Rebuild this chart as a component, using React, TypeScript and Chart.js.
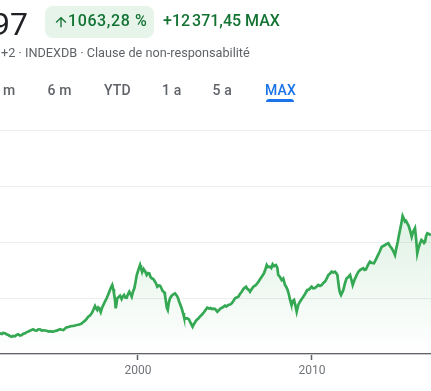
import React, { useEffect, useRef } from "react";
import { Chart, registerables } from "chart.js";

Chart.register(...registerables);

// Decimal years (x) and index values (y)
const years = [
  1991.96, 1992.07, 1992.18, 1992.24, 1992.36, 1992.47, 1992.55, 1992.64, 1992.74, 1992.82,
  1992.93, 1993.02, 1993.12, 1993.22, 1993.32, 1993.39, 1993.51, 1993.62, 1993.71, 1993.79,
  1993.88, 1993.98, 1994.08, 1994.18, 1994.25, 1994.37, 1994.46, 1994.56, 1994.66, 1994.75,
  1994.86, 1994.94, 1995.03, 1995.13, 1995.23, 1995.33, 1995.42, 1995.52, 1995.62, 1995.71,
  1995.81, 1995.90, 1996.00, 1996.09, 1996.19, 1996.28, 1996.38, 1996.48, 1996.57, 1996.67,
  1996.77, 1996.86, 1996.96, 1997.05, 1997.14, 1997.24, 1997.34, 1997.43, 1997.53, 1997.60,
  1997.66, 1997.72, 1997.78, 1997.86, 1997.93, 1998.01, 1998.10, 1998.20, 1998.29, 1998.39,
  1998.46, 1998.52, 1998.58, 1998.62, 1998.68, 1998.72, 1998.77, 1998.81, 1998.89, 1998.97,
  1999.06, 1999.11, 1999.20, 1999.27, 1999.35, 1999.43, 1999.50, 1999.57, 1999.64, 1999.71,
  1999.79, 1999.86, 1999.93, 2000.02, 2000.12, 2000.17, 2000.25, 2000.32, 2000.36, 2000.43,
  2000.50, 2000.58, 2000.65, 2000.72, 2000.79, 2000.88, 2000.98, 2001.05, 2001.11, 2001.19,
  2001.27, 2001.34, 2001.42, 2001.50, 2001.55, 2001.61, 2001.66, 2001.71, 2001.77, 2001.84,
  2001.93, 2002.03, 2002.13, 2002.23, 2002.30, 2002.37, 2002.44, 2002.51, 2002.59, 2002.64,
  2002.74, 2002.83, 2002.93, 2002.99, 2003.06, 2003.14, 2003.22, 2003.29, 2003.37, 2003.47,
  2003.56, 2003.68, 2003.79, 2003.88, 2003.98, 2004.08, 2004.17, 2004.24, 2004.33, 2004.43,
  2004.56, 2004.66, 2004.75, 2004.86, 2005.00, 2005.09, 2005.19, 2005.29, 2005.39, 2005.48,
  2005.58, 2005.67, 2005.77, 2005.86, 2005.96, 2006.06, 2006.15, 2006.21, 2006.29, 2006.38,
  2006.44, 2006.52, 2006.63, 2006.75, 2006.86, 2006.95, 2007.05, 2007.14, 2007.24, 2007.33,
  2007.40, 2007.47, 2007.59, 2007.66, 2007.74, 2007.82, 2007.93, 2008.01, 2008.06, 2008.16,
  2008.26, 2008.35, 2008.45, 2008.52, 2008.60, 2008.68, 2008.74, 2008.79, 2008.83, 2008.90,
  2008.97, 2009.04, 2009.12, 2009.21, 2009.31, 2009.41, 2009.50, 2009.60, 2009.73, 2009.83,
  2009.91, 2009.98, 2010.07, 2010.17, 2010.27, 2010.36, 2010.46, 2010.56, 2010.65, 2010.75,
  2010.85, 2010.94, 2011.04, 2011.13, 2011.23, 2011.32, 2011.39, 2011.46, 2011.51, 2011.57,
  2011.62, 2011.67, 2011.74, 2011.80, 2011.90, 2011.99, 2012.09, 2012.19, 2012.27, 2012.34,
  2012.44, 2012.57, 2012.66, 2012.76, 2012.86, 2012.95, 2013.02, 2013.10, 2013.22, 2013.33,
  2013.45, 2013.56, 2013.66, 2013.75, 2013.88, 2014.01, 2014.10, 2014.20, 2014.29, 2014.39,
  2014.48, 2014.58, 2014.67, 2014.77, 2014.85, 2014.93, 2015.00, 2015.06, 2015.15, 2015.21,
  2015.29, 2015.35, 2015.41, 2015.48, 2015.56, 2015.63, 2015.69, 2015.73, 2015.79, 2015.82,
  2015.92, 2015.99, 2016.05, 2016.12, 2016.21, 2016.29, 2016.36, 2016.44, 2016.50, 2016.56,
  2016.63, 2016.72, 2016.84, 2016.95,
];

const values = [
  1875, 1849, 1786, 1875, 1849, 1741, 1697, 1607, 1545, 1607,
  1581, 1697, 1759, 1652, 1697, 1786, 1849, 1965, 2009, 2081,
  2143, 2206, 2099, 2081, 2188, 2206, 2099, 2116, 2099, 2081,
  2009, 2036, 2000, 1991, 2054, 2081, 2143, 2206, 2161, 2143,
  2277, 2384, 2411, 2456, 2500, 2518, 2545, 2590, 2608, 2652,
  2741, 2858, 2974, 3126, 3331, 3438, 3634, 3929, 4286, 4063,
  3929, 4152, 4081, 3751, 4108, 4376, 4688, 4974, 5313, 5715,
  5983, 6162, 5805, 5420, 4822, 4081, 4554, 4974, 5090, 5206,
  4912, 5090, 5269, 5045, 5019, 5358, 5563, 5358, 5117, 5537,
  5867, 6430, 7055, 7501, 7948, 7680, 7349, 7591, 7501, 7323,
  7055, 7233, 7206, 6876, 6760, 6698, 6456, 6251, 6010, 6117,
  6099, 5894, 5626, 5537, 5269, 4644, 4108, 3929, 4554, 4974,
  5179, 5331, 5403, 5206, 5001, 4670, 4376, 4081, 3661, 3331,
  3143, 3188, 3081, 2884, 2679, 2438, 2679, 2858, 3036, 3170,
  3331, 3527, 3724, 3929, 4134, 4063, 4108, 4018, 4045, 4018,
  3777, 3929, 4081, 4152, 4313, 4242, 4376, 4420, 4527, 4733,
  4974, 5045, 5117, 5358, 5563, 5805, 5938, 6010, 5805, 5715,
  5563, 5760, 6010, 6117, 6313, 6519, 6760, 6965, 7206, 7591,
  7948, 7769, 7796, 7680, 8010, 7858, 7948, 7680, 7055, 6876,
  6608, 6742, 6162, 5983, 5715, 5269, 4822, 4554, 4376, 4733,
  4822, 4376, 3777, 4376, 4670, 4912, 5117, 5358, 5715, 5760,
  5894, 6010, 5867, 5894, 6028, 6162, 6072, 6162, 6340, 6456,
  6742, 7055, 7189, 7349, 7278, 7349, 7233, 7055, 6430, 5715,
  5447, 5269, 5492, 5715, 6340, 6760, 6876, 7055, 6608, 6162,
  6608, 7055, 7323, 7501, 7591, 7653, 7501, 7546, 7948, 8242,
  8126, 8099, 8394, 8689, 9108, 9581, 9644, 9733, 9823, 9885,
  9644, 9439, 9197, 8840, 9465, 10028, 10626, 11073, 11787, 12323,
  12055, 11814, 11876, 11671, 11430, 11073, 10716, 10474, 10805, 10921,
  11225, 10180, 8992, 9465, 9885, 10180, 10090, 9912, 10028, 10537,
  10778, 10716, 10626, 10716,
];

const xTickValues = [2000, 2010];
const yTickValues = [0, 5000, 10000, 15000, 20000];

const FONT = "Roboto, 'Noto Sans', Arial, sans-serif";

function ChartCanvas() {
  const ref = useRef<HTMLCanvasElement | null>(null);
  useEffect(() => {
    if (!ref.current) return;
    const points = years.map((x, i) => ({ x, y: values[i] }));
    const chart = new Chart(ref.current, {
      type: "line",
      data: {
        datasets: [
          {
            data: points,
            borderColor: "#34a853",
            borderWidth: 2.7,
            borderJoinStyle: "miter",
            pointRadius: 0,
            tension: 0,
            fill: "start",
            backgroundColor: (ctx: any) => {
              const c = ctx.chart;
              const area = c.chartArea;
              if (!area) return "rgba(52,168,83,0.1)";
              const g = c.ctx.createLinearGradient(0, area.top + 80, 0, area.bottom);
              g.addColorStop(0, "rgba(52,168,83,0.16)");
              g.addColorStop(1, "rgba(52,168,83,0)");
              return g;
            },
          },
        ],
      },
      options: {
        animation: false,
        responsive: false,
        maintainAspectRatio: false,
        layout: { padding: { top: 130, bottom: 8.6, left: 0, right: 0 } },
        plugins: { legend: { display: false }, tooltip: { enabled: false } },
        scales: {
          x: {
            type: "linear",
            min: 1992.07,
            max: 2016.84,
            afterBuildTicks: (axis: any) => {
              axis.ticks = xTickValues.map((v) => ({ value: v }));
            },
            grid: {
              drawOnChartArea: false,
              drawTicks: true,
              tickLength: 6,
              tickColor: "#5f6368",
              tickWidth: 1.5,
            },
            border: { display: true, color: "#5f6368", width: 1.2 },
            ticks: {
              color: "#70757a",
              font: { family: FONT, size: 12 },
              padding: 4,
              maxRotation: 0,
              callback: (v: any) => String(v),
            },
          },
          y: {
            min: 0,
            max: 20000,
            afterBuildTicks: (axis: any) => {
              axis.ticks = yTickValues.map((v) => ({ value: v }));
            },
            grid: { color: "#eeeeee", lineWidth: 1, drawTicks: false },
            border: { display: false },
            ticks: { display: false },
          },
        },
      },
    });
    return () => chart.destroy();
  }, []);
  return (
    <canvas
      ref={ref}
      width={431}
      height={391}
      style={{ position: "absolute", left: 0, top: 0, width: 431, height: 391 }}
    />
  );
}

const abs = (o: React.CSSProperties): React.CSSProperties => ({ position: "absolute", whiteSpace: "nowrap", ...o });

export default function App() {
  const tab = (label: string, left: number, active = false): React.ReactElement => (
    <div
      key={label}
      style={abs({
        left,
        top: 82.5,
        fontSize: 14,
        lineHeight: "14px",
        fontWeight: 500,
        fontFamily: FONT,
        color: active ? "#1a73e8" : "#5f6368",
        letterSpacing: 0.2,
      })}
    >
      {label}
    </div>
  );
  return (
    <div
      style={{
        position: "fixed",
        left: 0,
        top: 0,
        width: 431,
        height: 391,
        overflow: "hidden",
        background: "#ffffff",
        fontFamily: FONT,
      }}
    >
      <ChartCanvas />
      <div
        style={abs({
          left: -172,
          width: 200,
          textAlign: "right",
          top: 8,
          fontSize: 32,
          lineHeight: "32px",
          color: "#202124",
        })}
      >
        13&nbsp;534,97
      </div>
      <div
        style={abs({
          left: 45,
          top: 6,
          width: 109,
          height: 32,
          borderRadius: 8,
          background: "#e6f4ea",
        })}
      />
      <svg
        width={16}
        height={16}
        viewBox="0 0 24 24"
        style={{ position: "absolute", left: 53, top: 13.5 }}
      >
        <path d="M4 12l1.41 1.41L11 7.83V20h2V7.83l5.58 5.59L20 12l-8-8-8 8z" fill="#137333" />
      </svg>
      <div
        style={abs({
          left: 68,
          top: 13.2,
          fontSize: 16,
          lineHeight: "16px",
          fontWeight: 500,
          color: "#137333",
          letterSpacing: 0.6,
        })}
      >
        1063,28&nbsp;%
      </div>
      <div
        style={abs({
          left: 163,
          top: 13.2,
          fontSize: 16,
          lineHeight: "16px",
          fontWeight: 500,
          color: "#137333",
        })}
      >
        +12{"\u202F"}371,45 MAX
      </div>
      <div
        style={abs({
          left: 1,
          top: 46,
          fontSize: 12.7,
          lineHeight: "13px",
          color: "#5f6368",
        })}
      >
        +2 · INDEXDB · Clause de non-responsabilité
      </div>
      <div
        style={abs({
          left: -60,
          width: 75.5,
          textAlign: "right",
          top: 82.5,
          fontSize: 14,
          lineHeight: "14px",
          fontWeight: 500,
          color: "#5f6368",
          letterSpacing: 0.2,
        })}
      >
        1 m
      </div>
      {tab("6 m", 47.5)}
      {tab("YTD", 104)}
      {tab("1 a", 162)}
      {tab("5 a", 212.5)}
      {tab("MAX", 265, true)}
      <div
        style={abs({
          left: 266,
          top: 98.5,
          width: 28,
          height: 3,
          borderRadius: "3px 3px 0 0",
          background: "#1a73e8",
        })}
      />
    </div>
  );
}
